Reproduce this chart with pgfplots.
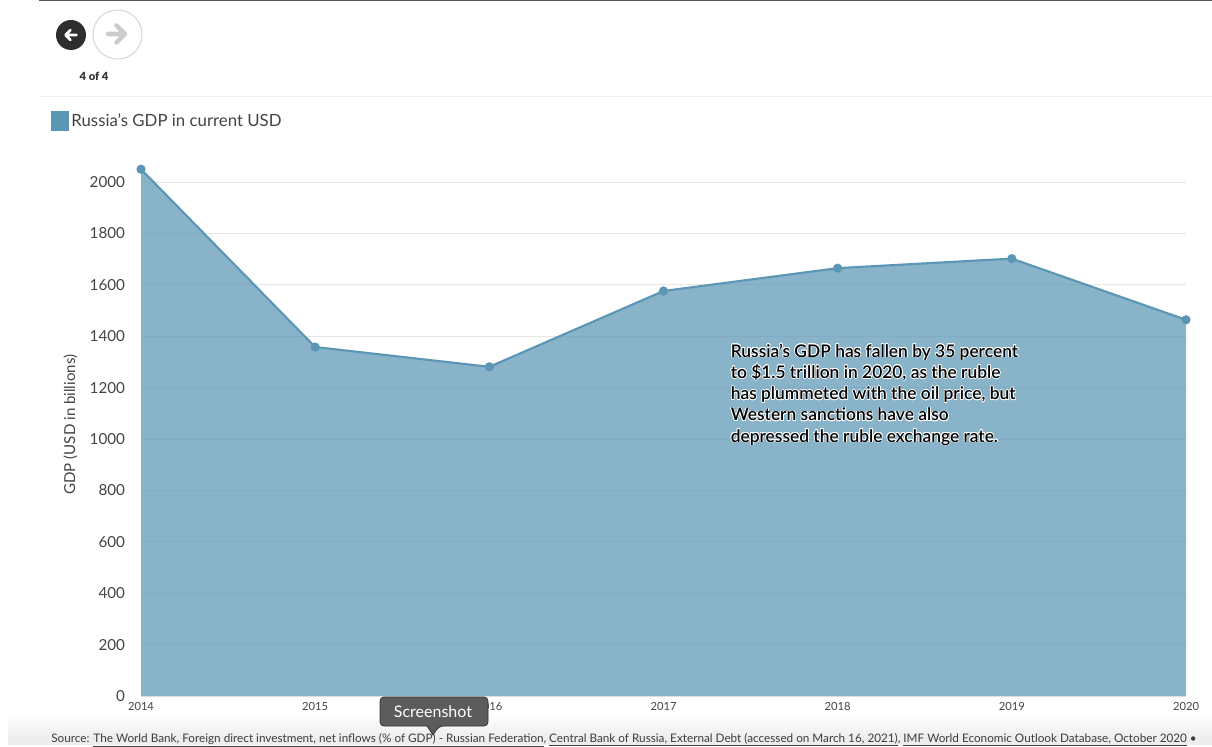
\documentclass[border=0pt]{standalone}
\usepackage{fontspec}
\usepackage{pgfplots}
\usepackage{pgfplotstable}
\usepackage{contour}
\pgfplotsset{compat=1.18}
\setmainfont{Lato}
\newfontfamily\semibold{Lato Semibold}
\newfontfamily\blackface{Lato Black}
\contourlength{0.5pt}
\contournumber{16}
\definecolor{gdpblue}{HTML}{5B97B5}
\definecolor{ink}{HTML}{444444}
\definecolor{gridgray}{HTML}{E6E6E6}
\pgfplotstableread{
year gdp
2014 2050
2015 1358
2016 1281
2017 1576
2018 1665
2019 1702
2020 1464
}\gdptable
\begin{document}
\begin{tikzpicture}
\begin{scope}[x=0.75pt,y=-0.75pt]
\useasboundingbox (0,0) rectangle (1212,745);
\fill[white] (0,0) rectangle (1212,745);
% page furniture
\fill[black!7] (8,737) rectangle (1212,745);
\shade[top color=white,bottom color=black!7] (8,715) rectangle (1212,737.5);
\draw[line width=1.1pt,black!65] (39,0.5) -- (1212,0.5);
\draw[line width=0.7pt,black!6] (39,96) -- (1212,96);
% carousel buttons
\fill[black!82] (71,35) circle[radius=15];
\draw[white,line width=2.1pt,line cap=round,line join=round] (76.5,35) -- (66,35) (70.5,30) -- (65.5,35) -- (70.5,40);
\filldraw[fill=white,draw=black!16,line width=0.75pt] (117.5,34.5) circle[radius=24.5];
\draw[black!20,line width=3.4pt,line cap=round,line join=round] (108,34) -- (124,34) (116.5,25.5) -- (125,34) -- (116.5,42.5);
\node[font=\fontsize{8.4}{10}\selectfont\blackface,text=black!80,inner sep=0pt] at (94,76) {4 of 4};
\end{scope}
% chart
\begin{axis}[
  at={(105.75pt,-522pt)},anchor=south west,
  width=783.75pt,height=395.1pt,scale only axis,
  xmin=2014,xmax=2020,ymin=0,ymax=2050,
  clip=false,
  axis line style={draw=none},
  tick style={draw=none},
  xtick={2014,2015,2016,2017,2018,2019,2020},
  ytick={0,200,400,600,800,1000,1200,1400,1600,1800,2000},
  ymajorgrids,
  grid style={gridgray,line width=0.6pt},
  /pgf/number format/assume math mode=true,
  /pgf/number format/1000 sep={},
  x tick label style={font=\fontsize{8.4}{10}\selectfont,text=ink,yshift=-1.2pt},
  y tick label style={font=\fontsize{11.4}{13}\selectfont,text=ink,xshift=-8.5pt},
  ylabel={GDP (USD in billions)},
  ylabel style={font=\fontsize{11.3}{13}\selectfont,text=ink,at={(axis description cs:-0.0565,0.515)},anchor=south},
  legend style={at={(axis description cs:-0.0861,1.0914)},anchor=west,draw=none,fill=none,
    font=\fontsize{12.6}{14}\selectfont,text=ink,inner sep=0pt,
    legend cell align=left},
  legend image code/.code={
    \fill[gdpblue] (-0.1pt,-6.4pt) rectangle (11.4pt,6.4pt);
  },
]
\addplot[fill=gdpblue,fill opacity=0.72,draw=none,forget plot] table[x=year,y=gdp]{\gdptable} \closedcycle;
\addplot[gdpblue,line width=1.6pt,mark=*,mark size=2.6pt,mark options={fill=gdpblue,draw=gdpblue}] table[x=year,y=gdp]{\gdptable};
\addlegendentry{Russia's GDP in current USD}
\end{axis}
\begin{scope}[x=0.75pt,y=-0.75pt]
% annotation inside the chart
\node[anchor=north west,inner sep=0pt,align=left,text=black,font=\fontsize{13.03}{15.95}\selectfont\semibold] at (730.5,343.5) {%
\contour{white}{Russia’s GDP has fallen by 35 percent}\\
\contour{white}{to \$1.5 trillion in 2020, as the ruble}\\
\contour{white}{has plummeted with the oil price, but}\\
\contour{white}{Western sanctions have also}\\
\contour{white}{depressed the ruble exchange rate.}};
% source line
\node[anchor=base west,inner sep=0pt,text=ink!90!black,font=\fontsize{8.8}{10}\selectfont] at (51,742) {Source: \underline{The World Bank, Foreign direct investment, net inflows (\% of GDP) - Russian Federation}, \underline{Central Bank of Russia, External Debt (accessed on March 16, 2021)}, \underline{IMF World Economic Outlook Database, October 2020} •};
% hover tooltip
\filldraw[fill=black!64,draw=black!80,line width=0.6pt,rounded corners=3pt]
  (380,697) -- (488,697) -- (488,726) -- (439,726) [sharp corners] -- (433,735) -- (427,726) [rounded corners=3pt] -- (380,726) -- cycle;
\node[text=white,font=\fontsize{12}{14}\selectfont,inner sep=0pt] at (433,711.5) {Screenshot};
\end{scope}
\end{tikzpicture}
\end{document}
